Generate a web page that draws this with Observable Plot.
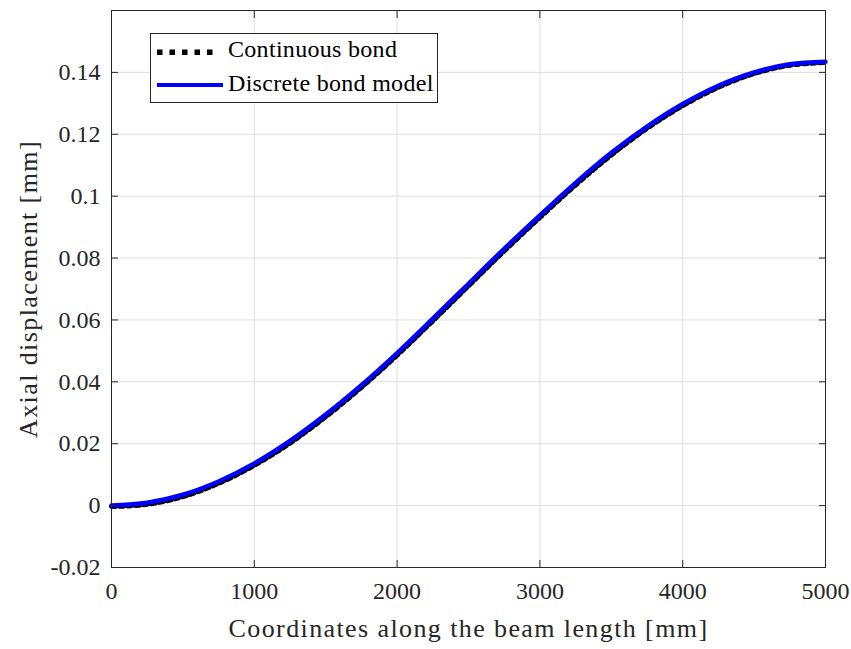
<!DOCTYPE html>
<html>
<head>
<meta charset="utf-8">
<script src="https://cdn.jsdelivr.net/npm/d3@7"></script>
<script src="https://cdn.jsdelivr.net/npm/@observablehq/plot@0.6"></script>
<style>
  html, body { margin: 0; padding: 0; background: #fff; }
  #wrap { position: relative; width: 851px; height: 649px; }
  #legend { position: absolute; left: 150px; top: 33px; }
</style>
</head>
<body>
<div id="wrap"></div>
<script>
// Coordinates along the beam length [mm]
const xs = [0, 250, 500, 750, 1000, 1250, 1500, 1750, 2000, 2250, 2500, 2750, 3000, 3250, 3500, 3750, 4000, 4250, 4500, 4750, 5000];
// Discrete bond model (axial displacement, mm)
const discrete = [0, 0.0009, 0.0035, 0.0078, 0.0136, 0.0209, 0.0294, 0.0389, 0.0493, 0.0604, 0.0717, 0.0830, 0.0938, 0.1043, 0.1140, 0.1225, 0.1298, 0.1357, 0.1400, 0.1426, 0.1434];
// Continuous bond (axial displacement, mm)
const continuous = [-0.0003, 0.0004, 0.0029, 0.0072, 0.0130, 0.0202, 0.0287, 0.0382, 0.0486, 0.0597, 0.0710, 0.0823, 0.0931, 0.1036, 0.1133, 0.1219, 0.1292, 0.1352, 0.1396, 0.1423, 0.1432];
const xTicks = [0, 1000, 2000, 3000, 4000, 5000];
const xTickLabels = ["0", "1000", "2000", "3000", "4000", "5000"];
const yTicks = [-0.02, 0, 0.02, 0.04, 0.06, 0.08, 0.1, 0.12, 0.14];
const yTickLabels = ["-0.02", "0", "0.02", "0.04", "0.06", "0.08", "0.1", "0.12", "0.14"];
const seriesNames = ["Continuous bond", "Discrete bond model"];
const xLabel = "Coordinates along the beam length [mm]";
const yLabel = "Axial displacement [mm]";

const contData = xs.map((x, i) => ({x, y: continuous[i]}));
const discData = xs.map((x, i) => ({x, y: discrete[i]}));

const font = "Liberation Serif";
const fs = 24;
const tickColor = "#262626";
const gridColor = "#dfdfdf";

const chart = Plot.plot({
  width: 851,
  height: 649,
  marginLeft: 111,
  marginRight: 26,
  marginTop: 10,
  marginBottom: 82,
  style: {fontFamily: font, fontSize: fs + "px", color: tickColor, background: "#fff"},
  x: {domain: [0, 5000]},
  y: {domain: [-0.02, 0.16]},
  marks: [
    Plot.gridX(xTicks, {stroke: gridColor, strokeOpacity: 1}),
    Plot.gridY(yTicks, {stroke: gridColor, strokeOpacity: 1}),
    Plot.line(contData, {x: "x", y: "y", stroke: "#000", strokeWidth: 5, strokeDasharray: "4,4", curve: "catmull-rom"}),
    Plot.line(discData, {x: "x", y: "y", stroke: "#0000ff", strokeWidth: 4.5, curve: "catmull-rom"}),
    Plot.axisX(xTicks, {anchor: "bottom", tickSize: -7, tickPadding: 21, stroke: tickColor, fill: "#262626",
      fontSize: fs, tickFormat: (d, i) => xTickLabels[i], label: null}),
    Plot.axisX(xTicks, {anchor: "top", tickSize: -7, tickFormat: () => "", stroke: tickColor, label: null}),
    Plot.axisY(yTicks, {anchor: "left", tickSize: -7, tickPadding: 18, stroke: tickColor, fill: "#262626",
      fontSize: fs, tickFormat: (d, i) => yTickLabels[i], label: null}),
    Plot.axisY(yTicks, {anchor: "right", tickSize: -7, tickFormat: () => "", stroke: tickColor, label: null}),
    Plot.frame({stroke: tickColor, strokeWidth: 1}),
    Plot.text([xLabel], {frameAnchor: "bottom", text: d => d, dy: 69, fontSize: 26, fill: "#262626"}),
    Plot.text([yLabel], {frameAnchor: "left", text: d => d, dx: -83, rotate: -90, textAnchor: "middle", fontSize: 26, fill: "#262626"})
  ]
});
d3.select(chart).selectAll("text")
  .filter(function () { return this.textContent === xLabel || this.textContent === yLabel; })
  .attr("letter-spacing", "1.4px");
const wrap = document.getElementById("wrap");
wrap.appendChild(chart);

// Legend overlay (SVG)
const lg = d3.select(wrap).append("svg")
  .attr("id", "legend").attr("width", 290).attr("height", 72);
lg.append("rect").attr("x", 0.5).attr("y", 0.5).attr("width", 287).attr("height", 69)
  .attr("fill", "#fff").attr("stroke", "#262626").attr("stroke-width", 1);
// dotted sample: five square dots
d3.range(5).forEach(k => {
  lg.append("rect").attr("x", 7 + k * 12.5).attr("y", 16.5).attr("width", 5.5).attr("height", 5.5).attr("fill", "#000");
});
// solid blue sample
lg.append("line").attr("x1", 7).attr("x2", 73).attr("y1", 52).attr("y2", 52)
  .attr("stroke", "#0000ff").attr("stroke-width", 4);
seriesNames.forEach((name, i) => {
  const cy = i === 0 ? 16 : 50;
  lg.append("text").attr("x", 78).attr("y", cy).attr("dy", "0.33em")
    .attr("font-family", font).attr("font-size", 24).attr("letter-spacing", "0.3px")
    .attr("fill", "#000").text(name);
});
</script>
</body>
</html>
